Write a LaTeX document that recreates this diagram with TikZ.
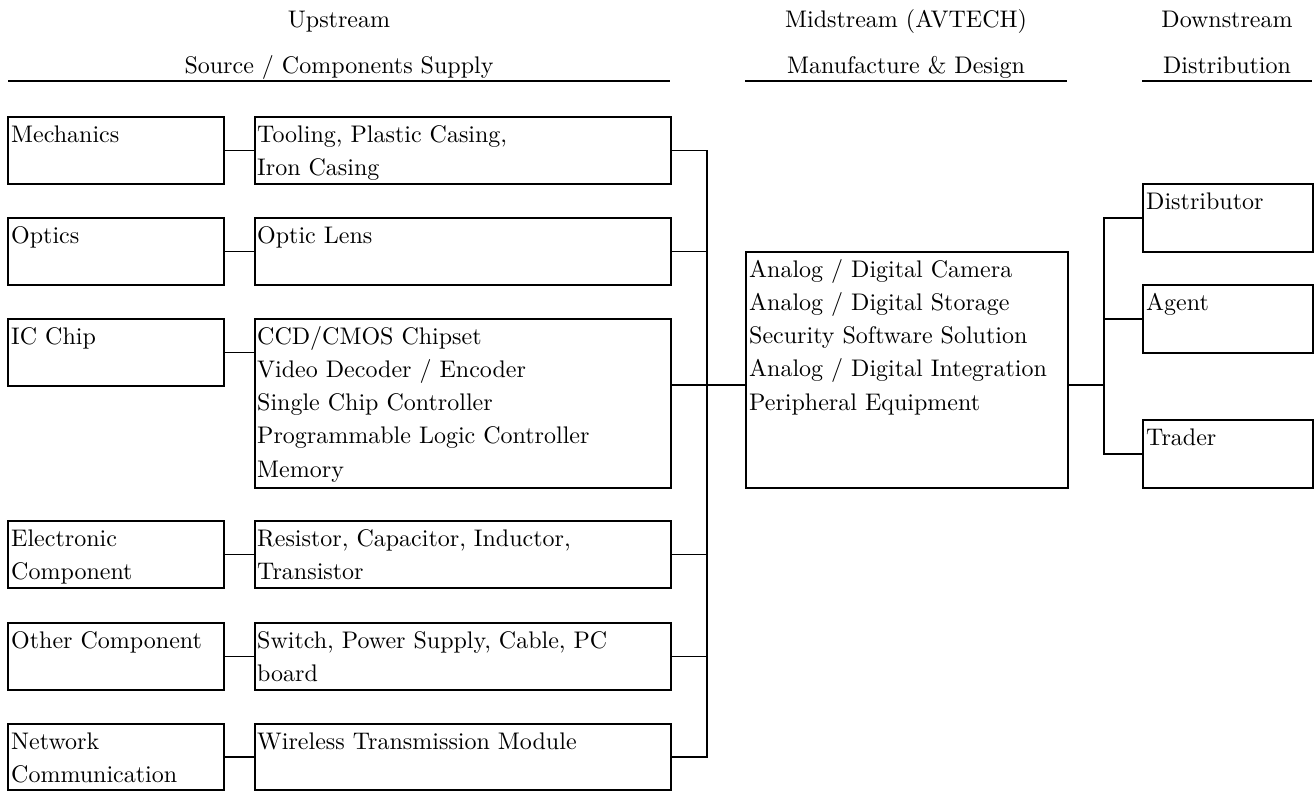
\documentclass[tikz,border=0pt]{standalone}
\usepackage{fontspec}
\setmainfont{lmroman10-regular.otf}
\newcommand{\lns}[1]{\parbox[t]{420pt}{#1}}
\tikzset{
  box/.style={draw, line width=1.8pt, inner sep=0pt, anchor=north west},
  txt/.style={inner sep=0pt, anchor=base west, font=\fontsize{24pt}{33.3pt}\selectfont},
  hdr/.style={inner sep=0pt, anchor=base, font=\fontsize{24pt}{33.3pt}\selectfont},
  wire/.style={line width=1.8pt},
}
\begin{document}
\begin{tikzpicture}[x=1pt,y=-1pt]
\useasboundingbox (0,0) rectangle (1314,790);
% headers
\node[hdr] (h1a) at (339,27) {Upstream};
\node[hdr] (h1b) at (339,73) {Source / Components Supply};
\node[hdr] (h2a) at (906,27) {Midstream (AVTECH)};
\node[hdr] (h2b) at (906,73) {Manufacture \& Design};
\node[hdr] (h3a) at (1227,27) {Downstream};
\node[hdr] (h3b) at (1227,73) {Distribution};
\draw[wire] (8,81) -- (670,81);
\draw[wire] (745,81) -- (1067,81);
\draw[wire] (1142,81) -- (1312,81);
% left boxes
\node[box, minimum width=216pt, minimum height=67pt] (l1) at (7,116) {};
\node[box, minimum width=216pt, minimum height=67pt] (l2) at (7,217) {};
\node[box, minimum width=216pt, minimum height=67pt] (l3) at (7,318) {};
\node[box, minimum width=216pt, minimum height=67pt] (l4) at (7,520) {};
\node[box, minimum width=216pt, minimum height=67pt] (l5) at (7,622) {};
\node[box, minimum width=216pt, minimum height=66pt] (l6) at (7,723) {};
% right boxes
\node[box, minimum width=416pt, minimum height=67pt] (r1) at (254,116) {};
\node[box, minimum width=416pt, minimum height=67pt] (r2) at (254,217) {};
\node[box, minimum width=416pt, minimum height=169pt] (r3) at (254,318) {};
\node[box, minimum width=416pt, minimum height=67pt] (r4) at (254,520) {};
\node[box, minimum width=416pt, minimum height=67pt] (r5) at (254,622) {};
\node[box, minimum width=416pt, minimum height=66pt] (r6) at (254,723) {};
% midstream
\node[box, minimum width=322pt, minimum height=236pt] (mid) at (745,251) {};
% downstream
\node[box, minimum width=170pt, minimum height=68pt] (d1) at (1142,183) {};
\node[box, minimum width=170pt, minimum height=68pt] (d2) at (1142,284) {};
\node[box, minimum width=170pt, minimum height=68pt] (d3) at (1142,419) {};
% texts
\node[txt] (tl1) at ([shift={(4,26)}]l1.north west) {Mechanics};
\node[txt] (tl2) at ([shift={(4,26)}]l2.north west) {Optics};
\node[txt] (tl3) at ([shift={(4,26)}]l3.north west) {IC Chip};
\node[txt] (tl4) at ([shift={(4,26)}]l4.north west) {\lns{Electronic\\Component}};
\node[txt] (tl5) at ([shift={(4,26)}]l5.north west) {Other Component};
\node[txt] (tl6) at ([shift={(4,26)}]l6.north west) {\lns{Network\\Communication}};
\node[txt] (tr1) at ([shift={(3,26)}]r1.north west) {\lns{Tooling, Plastic Casing,\\Iron Casing}};
\node[txt] (tr2) at ([shift={(3,26)}]r2.north west) {Optic Lens};
\node[txt] (tr3) at ([shift={(3,26)}]r3.north west) {\lns{CCD/CMOS Chipset\\Video Decoder / Encoder\\Single Chip Controller\\Programmable Logic Controller\\Memory}};
\node[txt] (tr4) at ([shift={(3,26)}]r4.north west) {\lns{Resistor, Capacitor, Inductor,\\Transistor}};
\node[txt] (tr5) at ([shift={(3,26)}]r5.north west) {\lns{Switch, Power Supply, Cable, PC\\board}};
\node[txt] (tr6) at ([shift={(3,26)}]r6.north west) {Wireless Transmission Module};
\node[txt] (tm) at ([shift={(4,26)}]mid.north west) {\lns{Analog / Digital Camera\\Analog / Digital Storage\\Security Software Solution\\Analog / Digital Integration\\Peripheral Equipment}};
\node[txt] (td1) at ([shift={(4,26)}]d1.north west) {Distributor};
\node[txt] (td2) at ([shift={(4,26)}]d2.north west) {Agent};
\node[txt] (td3) at ([shift={(4,26)}]d3.north west) {Trader};
% connectors left-right
\foreach \i in {1,2,3,4,5,6} {
  \draw[wire] (l\i.east) -- (l\i.east -| r\i.west);
}
% upstream bus
\coordinate (bt) at (707,149.5);
\coordinate (bj) at (707,385);
\draw[wire] (r1.east) -- (r1.east -| bt) -- (r6.east -| bt) -- (r6.east);
\draw[wire] (r2.east) -- (r2.east -| bt);
\draw[wire] (r4.east) -- (r4.east -| bt);
\draw[wire] (r5.east) -- (r5.east -| bt);
\draw[wire] (bj -| r3.east) -- (bj -| mid.west);
% downstream bus
\coordinate (dj) at (1104,385);
\draw[wire] (bj -| mid.east) -- (dj);
\draw[wire] (d1.west) -- (d1.west -| dj) -- (d3.west -| dj) -- (d3.west);
\draw[wire] (d2.west) -- (d2.west -| dj);
\end{tikzpicture}
\end{document}
